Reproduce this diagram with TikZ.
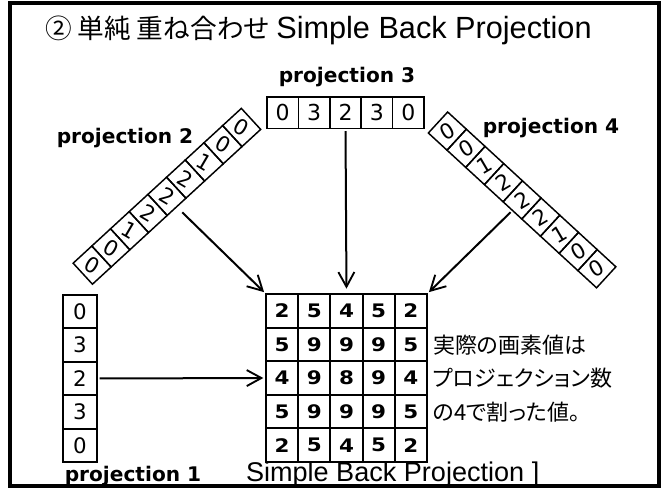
\documentclass[tikz,border=0pt]{standalone}
\usepackage{fontspec}
\usepackage{graphicx}
\setmainfont{Liberation Sans}
\newfontfamily\jpfont[RawFeature=+palt]{Noto Sans CJK JP}
\newfontfamily\dvfont{DejaVu Sans}
\usetikzlibrary{arrows.meta}
\begin{document}
\begin{tikzpicture}[x=0.75pt,y=-0.75pt,
  every node/.style={inner sep=0pt, outer sep=0pt},
  gridcell/.style={draw, line width=1.4pt, minimum width=24.15pt, minimum height=25.2pt,
    font=\dvfont\bfseries\fontsize{14}{15}\selectfont},
  colcell/.style={draw, line width=1.4pt, minimum width=25.5pt, minimum height=25.05pt,
    font=\dvfont\fontsize{16}{17}\selectfont},
  rowcell/.style={draw, line width=1.2pt, minimum width=23.55pt, minimum height=23.6pt,
    font=\dvfont\fontsize{16.5}{17}\selectfont},
  stripcell/.style={draw, line width=1.1pt, minimum width=21.4pt, minimum height=19.05pt,
    font=\dvfont\fontsize{16}{17}\selectfont},
  projlabel/.style={font=\dvfont\bfseries\fontsize{15.1}{16}\selectfont},
  backarrow/.style={line width=1.5pt, -{Straight Barb[length=11pt,width=12pt,line width=1.4pt]}}
]
\useasboundingbox (0,0) rectangle (666,488);
% outer frame
\draw[line width=2.4pt] (10,3) rectangle (659,486);

% title
\node[anchor=west] (title) at (45,30)
  {{\jpfont\fontsize{20}{22}\selectfont ② 単純 重ね合わせ}\hspace{5pt}{\fontsize{23}{25}\selectfont Simple Back Projection}};

% projection 3 (top row)
\node[projlabel] (lab3) at (347,77) {projection 3};
\foreach \v [count=\k] in {0,3,2,3,0}
  \node[rowcell] (pc\k) at ({267+15.7+(\k-1)*31.4},{97+15.7}) {\v};

% projection 2 (diagonal, rising to the right)
\node[projlabel] (lab2) at (125,138) {projection 2};
\foreach \v [count=\k from 0] in {0,0,1,2,2,2,1,0,0}
  \node[stripcell, rotate=-47.4] (pb\k) at ({82.8+(\k+0.5)*18.69},{273.7-(\k+0.5)*17.20}) {\rotatebox{17}{\v}};

% projection 4 (diagonal, falling to the right)
\node[projlabel] (lab4) at (551,128) {projection 4};
\foreach \v [count=\k from 0] in {0,0,1,2,2,2,1,0,0}
  \node[stripcell, rotate=47.4] (pd\k) at ({438+(\k+0.5)*18.69},{122.5+(\k+0.5)*17.20}) {\rotatebox{-17}{\v}};

% projection 1 (left column)
\foreach \v [count=\k] in {0,3,2,3,0}
  \node[colcell] (pa\k) at (80,{295+16.7+(\k-1)*33.4}) {\v};
\node[projlabel, anchor=base] (lab1) at (133,481) {projection 1};

% back-projected image
\foreach \row [count=\r] in {{2,5,4,5,2},{5,9,9,9,5},{4,9,8,9,4},{5,9,9,9,5},{2,5,4,5,2}}
  \foreach \v [count=\c] in \row
    \node[gridcell] (g\r\c) at ({266+16.1+(\c-1)*32.2},{294+16.8+(\r-1)*33.6}) {\scalebox{1.15}[1]{\v}};
\node[anchor=base west] (sbp) at (246,481) {\fontsize{20.3}{22}\selectfont Simple Back Projection ]};

% note on normalisation
\node[anchor=west, align=left, font=\jpfont\fontsize{16.5}{25.1}\selectfont] (note) at (433,378.5)
  {実際の画素値は\\プロジェクション数\\の4で割った値。};

% back-projection arrows
\draw[backarrow, shorten <=2pt, shorten >=2pt] (pa3.east) -- (g31.west);
\draw[backarrow, shorten <=2pt, shorten >=4pt] (pc3.south) -- (g13.north);
\draw[backarrow, shorten <=6pt, shorten >=2pt] (pb4.east) -- (g11.north west);
\draw[backarrow, shorten <=2pt, shorten >=2pt] (pd4.west) -- (g15.north east);
\end{tikzpicture}
\end{document}
